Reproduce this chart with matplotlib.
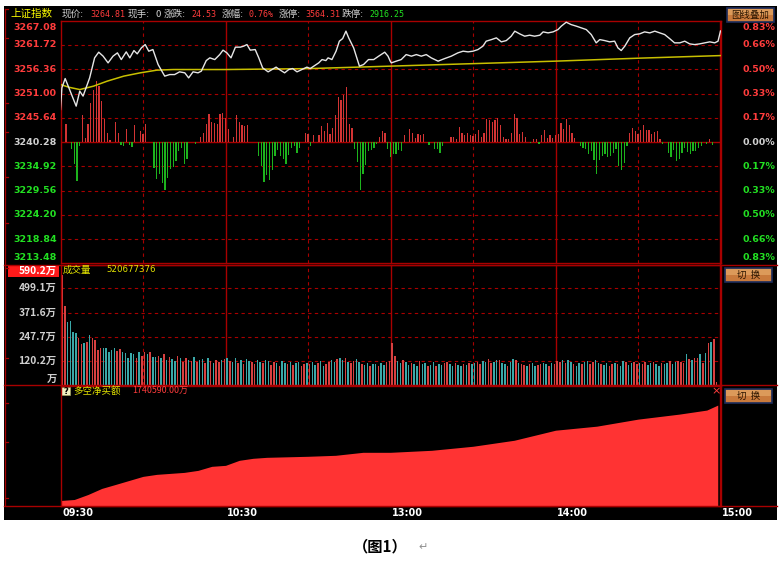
import matplotlib
matplotlib.use("Agg")
import matplotlib.pyplot as plt
from matplotlib.patches import Rectangle, FancyBboxPatch
from matplotlib.transforms import offset_copy
import numpy as np

# ---------------- data ----------------
PRE_CLOSE = 3240.28
price_ticks = [3267.08, 3261.72, 3256.36, 3251.00, 3245.64, 3240.28,
               3234.92, 3229.56, 3224.20, 3218.84, 3213.48]
pct_labels = ['0.83%', '0.66%', '0.50%', '0.33%', '0.17%', '0.00%',
              '0.17%', '0.33%', '0.50%', '0.66%', '0.83%']
time_labels = ['09:30', '10:30', '13:00', '14:00', '15:00']
time_pos = [0, 60, 120, 180, 240]
grid_dashed = [30, 90, 150, 210]
grid_solid = [60, 120, 180]

price_t = [0, 0.5, 1.7, 3.3, 5.7, 7, 8.2, 10.6, 12.4, 13.9, 15.5, 17.3, 19.1, 20.7, 22.1, 23.9, 25.2,
           26.7, 27.9, 29.4, 30.8, 32.1, 33.6, 35.5, 37.9, 39.7, 41.5, 43.3, 45.2, 46.6, 48.2, 50,
           51.2, 53, 54.3, 56.1, 57.9, 59.1, 60.5, 62, 63.6, 65.4, 66.6, 67.8, 69, 70.8, 72.1, 73.5,
           75.5, 76.9, 78.4, 79.6, 81.5, 83, 84.4, 86, 87.8, 89.6, 90.8, 92.1, 93.9, 95.1, 96.5,
           97.3, 98.7, 100.2, 101.4, 102.6, 103.8, 104.8, 106.6, 108.7, 110.2, 112, 113.9, 115.7,
           117.9, 119.1, 119.9, 120.3, 122.1, 123.9, 125.7, 127.6, 129.4, 131.2, 133, 134.8, 137.3,
           139.7, 142.1, 144.5, 146.4, 148.2, 150, 151.8, 153.6, 154.8, 156.7, 158.5, 160.3, 162.1,
           163.9, 165.2, 167, 168.8, 170.6, 172.4, 174.3, 175.5, 177.3, 179.1, 180.9, 182.1, 183.9,
           185.7, 187.6, 189.4, 191.2, 193, 194.8, 196.1, 197.9, 199.7, 201.5, 202.7, 203.9, 205.2,
           207, 208.8, 210.6, 212.4, 214.3, 216.1, 217.9, 219.7, 221.5, 223.3, 225.2, 227, 228.8,
           230.6, 232.4, 234.3, 236.1, 237.9, 239.1, 240]
price_v = [3247.47, 3252.26, 3254.31, 3251.88, 3248.22, 3251.53, 3250.43, 3254.46, 3258.88, 3260.13,
           3259.25, 3257.77, 3259.25, 3259.98, 3258.50, 3260.20, 3258.88, 3260.49, 3259.76, 3261.08,
           3261.81, 3260.35, 3260.71, 3257.40, 3254.84, 3255.19, 3255.19, 3255.79, 3255.57, 3254.46,
           3255.79, 3255.57, 3255.94, 3258.28, 3258.88, 3258.50, 3259.60, 3260.58, 3259.98, 3258.88,
           3261.24, 3261.24, 3261.46, 3261.81, 3260.58, 3260.71, 3258.88, 3256.67, 3255.79, 3256.30,
           3256.83, 3256.30, 3255.57, 3256.30, 3256.52, 3255.79, 3256.30, 3256.83, 3256.52, 3257.05,
           3257.77, 3258.50, 3258.28, 3258.88, 3258.50, 3260.35, 3262.56, 3263.13, 3264.77, 3263.29,
           3261.08, 3257.05, 3257.40, 3258.50, 3258.50, 3259.25, 3260.13, 3259.25, 3258.15, 3257.77,
           3258.15, 3258.50, 3259.60, 3259.25, 3259.60, 3259.25, 3259.60, 3258.88, 3258.15, 3258.72,
           3259.25, 3259.98, 3260.35, 3260.20, 3260.35, 3260.71, 3261.46, 3262.56, 3262.91, 3263.29,
           3262.41, 3262.69, 3263.66, 3264.77, 3264.17, 3263.66, 3263.88, 3263.66, 3263.88, 3264.61,
           3264.39, 3264.61, 3265.12, 3265.87, 3266.75, 3266.22, 3265.87, 3265.49, 3265.12, 3264.02,
           3262.19, 3262.91, 3262.69, 3262.41, 3262.56, 3261.08, 3260.49, 3261.46, 3263.29, 3264.02,
           3264.17, 3264.61, 3264.39, 3264.77, 3264.39, 3264.02, 3263.13, 3262.19, 3262.19, 3262.56,
           3261.96, 3261.81, 3261.96, 3262.19, 3262.41, 3262.19, 3262.56, 3264.81]

avg_t = [0, 3, 7, 12, 17, 23, 29, 35, 41, 60, 90, 120, 150, 180, 210, 240]
avg_v = [3252.99, 3252.40, 3251.88, 3252.63, 3253.74, 3254.84, 3255.57, 3256.16, 3256.30,
         3256.30, 3256.50, 3257.05, 3257.60, 3258.15, 3258.80, 3259.38]

bar_t = [2, 8, 9, 10, 11, 12, 13, 14, 15, 16, 17, 18, 20, 21, 24, 27, 29, 30, 31,
         4, 5, 6, 7, 22, 23, 25, 26,
         34, 35, 36, 37, 38, 39, 40, 41, 42, 43, 44, 45, 46, 49,
         51, 52, 53, 54, 55, 56, 57, 58, 59, 60, 61, 63, 64, 65, 66, 67, 68,
         72, 73, 74, 75, 76, 77, 78, 79, 80, 81, 82, 83, 84, 85, 86, 87, 91,
         89, 90, 92, 94, 95, 96, 97, 98, 99, 100, 101, 102, 103, 104, 105, 106,
         107, 108, 109, 110, 111, 112, 113, 114, 115, 116, 117, 118,
         119, 120, 121, 122, 123, 124, 125, 127, 128, 129, 130, 131, 132,
         134, 136, 137, 138, 139,
         142, 143, 144, 145, 146, 147, 148, 149, 150, 151, 152, 153, 154, 155, 156, 157, 158,
         159, 160, 161, 162, 163, 164, 165, 166, 167, 168, 169, 171, 172, 173, 174, 175, 176,
         177, 178, 179, 180, 181, 182, 183, 184, 185, 186, 187,
         189, 190, 191, 192, 193, 194, 195, 196, 197, 198, 199, 200, 201, 202, 203, 204, 205, 206,
         207, 208, 209, 210, 211, 212, 213, 214, 215, 216, 217, 218,
         219, 221, 222, 223, 224, 225, 226, 227, 228, 229, 230, 231, 232, 233, 235, 237, 236]
bar_v = [4.0, 5.9, 0.9, 3.9, 8.7, 11.6, 13.4, 12.3, 9.0, 5.0, 1.9, 0.4, 4.4, 1.9, 2.9, 3.7, 2.4, 1.8, 4.0,
         -1.5, -4.9, -8.6, -0.9, -0.7, -0.9, -0.7, -1.1,
         -5.7, -8.2, -7.0, -9.0, -10.6, -7.9, -6.0, -5.5, -4.2, -2.0, -1.3, -4.9, -3.8, -0.5,
         1.2, 2.0, 4.0, 6.2, 4.5, 4.2, 4.0, 6.1, 6.4, 5.3, 3.0, 1.2, 5.9, 4.5, 3.7, 3.5, 3.7,
         -3.1, -5.3, -8.8, -7.3, -8.4, -6.1, -3.1, -1.8, -3.1, -3.8, -4.9, -2.9, -1.3, -0.9, -2.4, -1.4, -0.9,
         1.9, 1.8, 1.5, 1.5, 3.5, 2.4, 4.2, 1.7, 3.1, 5.9, 10.0, 9.3, 10.5, 12.2, 3.9, 3.1,
         -1.6, -4.3, -10.6, -7.1, -5.1, -2.0, -1.8, -1.3, -0.5, 1.1, 2.4, 2.0,
         -1.5, -3.3, -2.7, -2.6, -1.8, -2.0, 1.5, 2.9, 2.0, 0.8, 1.8, 1.5, 1.7,
         -0.7, -1.6, -1.5, -2.4, -0.9,
         1.2, 1.2, 0.6, 3.4, 2.0, 1.5, 2.0, 1.5, 1.3, 1.8, 2.6, 1.2, 2.1, 5.0, 4.8, 4.5, 4.8,
         5.3, 3.7, 1.2, 0.7, 0.7, 2.0, 6.1, 5.3, 1.7, 2.2, 1.2, -0.3, 0.6, 0.6, -0.5, 1.5, 2.6,
         0.9, 1.5, 0.8, 1.5, 1.8, 4.2, 2.9, 5.2, 3.7, 2.0, 0.9,
         -0.9, -1.3, -1.6, -2.7, -2.0, -4.0, -7.1, -4.0, -3.1, -2.7, -3.3, -3.1, -2.4, -1.6, -5.3, -6.2, -4.6, -0.9,
         2.0, 3.1, 2.4, 1.8, 2.6, 3.7, 2.6, 2.6, 1.8, 2.3, 2.4, 0.7,
         -0.5, -2.4, -3.3, -1.8, -4.2, -3.8, -2.5, -1.3, -2.2, -2.7, -2.0, -2.0, -1.3, -0.9, -0.5, -0.7, 0.6]

vol = [568, 407, 326, 331, 270, 265, 239, 208, 218, 221, 256, 242, 230, 178, 190, 190, 187, 170,
       178, 190, 173, 182, 168, 165, 140, 165, 156, 140, 167, 147, 168, 158, 167, 142, 142,
       150, 138, 160, 128, 145, 133, 122, 150, 140, 118, 135, 128, 120, 142, 115, 125, 130, 112,
       138, 120, 110, 128, 118, 125, 130,
       135, 120, 118, 140, 112, 125, 108, 130, 122, 115, 105, 128, 118, 110, 125, 120, 102, 115,
       110, 98, 120, 112, 105, 118, 100, 110, 115, 98, 108, 112,
       105, 118, 100, 112, 120, 96, 108, 115, 125, 118, 130, 135, 128, 140, 118, 110, 122, 130,
       115, 105, 100, 112, 98, 108, 104, 96, 110, 102, 115, 120,
       215, 150, 120, 110, 125, 118, 100, 112, 108, 95, 120, 105, 110, 98, 102, 115, 96, 108, 100,
       112, 118, 105, 98, 110, 102, 96, 108, 100, 112, 104,
       110, 118, 105, 122, 115, 130, 112, 118, 125, 128, 110, 105, 98, 115, 130, 125, 112, 108,
       102, 98, 105, 110, 96, 102, 108, 112, 104, 98, 110, 105,
       120, 115, 128, 110, 125, 118, 105, 98, 112, 108, 115, 120, 104, 118, 128, 112, 105, 100,
       110, 98, 104, 112, 108, 96, 120, 115, 102, 110, 118, 105,
       112, 108, 115, 102, 110, 118, 105, 98, 110, 104, 112, 120, 108, 115, 122, 118, 110,
       156, 131, 128, 140, 136, 156, 110, 165, 213, 221, 235, 14]
vol_dir = ("uudddduududuuuuddddduudddddudu"
           "ududdudududduduudududdududuudu"
           "duddududduuddudduududdududduud"
           "uddudduuddudduduuddudduddudduu"
           "uuddudduddudduddudduudduddudud"
           "duudduudduddudduduududduuddudu"
           "uududduddudduuddudduududdudduu"
           "duuddudduddudduuudud"
           "uudududuudduu")
vol_ticks = [499.1, 371.6, 247.7, 120.2]
vol_top = 590.2
vol_total = "520677376"

nb_t = [0, 5, 10, 15, 20, 25, 30, 35, 40, 45, 50, 55, 60, 65, 70, 75, 90, 100, 110, 120,
        135, 150, 165, 180, 195, 210, 225, 235, 239]
nb_v = [87000, 104000, 191000, 296000, 365000, 435000, 505000, 540000, 557000, 574000, 609000,
        679000, 696000, 783000, 818000, 835000, 853000, 870000, 922000, 922000, 957000, 1027000,
        1131000, 1305000, 1375000, 1497000, 1584000, 1654000, 1740590]
nb_label = "1740590.00万"

header = [("现价:", "lab"), ("3264.81", "up"), ("现手:", "lab"), ("0", "lab"),
          ("涨跌:", "lab"), ("24.53", "up"), ("涨幅:", "lab"), ("0.76%", "up"),
          ("涨停:", "lab"), ("3564.31", "up"), ("跌停:", "lab"), ("2916.25", "dn")]

# ---------------- style ----------------
W, H = 779, 569
RED_GRID = '#a80000'
UP_TXT = '#ff3c3c'
DN_TXT = '#22e022'
LAB_TXT = '#d0d0d0'
CJK = ['Noto Sans CJK SC', 'DejaVu Sans']

fig = plt.figure(figsize=(W / 100, H / 100), dpi=100)
fig.patch.set_facecolor('white')

bg = fig.add_axes([0, 0, 1, 1])
bg.set_xlim(0, W)
bg.set_ylim(H, 0)
bg.axis('off')
bg.add_patch(Rectangle((4, 6), 773, 514, facecolor='black', edgecolor='none', zorder=0))

L, R = 60.5, 720.5
P_TOP, P_BOT = 20.7, 263.5
V_TOP, V_BOT = 264.5, 384.5
N_TOP, N_BOT = 385.5, 505.5


def panel(top, bot):
    ax = fig.add_axes([L / W, 1 - bot / H, (R - L) / W, (bot - top) / H])
    ax.set_facecolor('none')
    ax.set_xticks([])
    ax.set_yticks([])
    for s in ax.spines.values():
        s.set_color(RED_GRID)
        s.set_linewidth(1.0)
    ax.set_xlim(0, 240)
    return ax


# ---- price panel ----
ax1 = panel(P_TOP, P_BOT)
ax1.set_ylim(price_ticks[-1], price_ticks[0])
for v in price_ticks[1:-1]:
    if v == PRE_CLOSE:
        ax1.axhline(v, color=RED_GRID, lw=1.0, zorder=1)
    else:
        ax1.axhline(v, color=RED_GRID, lw=0.8, ls=(0, (3, 3)), zorder=1)
for t in grid_dashed:
    ax1.axvline(t, color=RED_GRID, lw=0.8, ls=(0, (3, 3)), zorder=1)
for t in grid_solid:
    ax1.axvline(t, color=RED_GRID, lw=1.0, zorder=1)
bt = np.array(bar_t)
bv = np.array(bar_v)
ax1.bar(bt, bv, bottom=PRE_CLOSE, width=0.45,
        color=np.where(bv >= 0, '#d23434', '#1db31d'), zorder=2)
ax1.plot(avg_t, avg_v, color='#c8c000', lw=1.1, zorder=3)
ax1.plot(price_t, price_v, color='#e6e6e6', lw=1.0, zorder=4)

ytr = ax1.get_yaxis_transform()
n = len(price_ticks)
for i, (v, pl) in enumerate(zip(price_ticks, pct_labels)):
    col = UP_TXT if v > PRE_CLOSE else (LAB_TXT if v == PRE_CLOSE else DN_TXT)
    if i == 0:
        tr, va = offset_copy(ytr, fig=fig, y=-2, units='dots'), 'top'
    elif i == n - 1:
        tr, va = offset_copy(ytr, fig=fig, y=1.5, units='dots'), 'bottom'
    else:
        tr, va = ytr, 'center'
    ax1.text(-0.006, v, f"{v:.2f}", transform=tr, ha='right', va=va, color=col,
             fontsize=6.8, fontweight='bold', family='DejaVu Sans', clip_on=False)
    ax1.text(1 + 54.5 / 660, v, pl, transform=tr, ha='right', va=va, color=col,
             fontsize=6.8, fontweight='bold', family='DejaVu Sans', clip_on=False)

# ---- volume panel ----
ax2 = panel(V_TOP, V_BOT)
ax2.set_ylim(0, 623)
for v in vol_ticks:
    ax2.axhline(v, color=RED_GRID, lw=0.8, ls=(0, (3, 3)), zorder=1)
for t in grid_dashed:
    ax2.axvline(t, color=RED_GRID, lw=0.8, ls=(0, (3, 3)), zorder=1)
for t in grid_solid:
    ax2.axvline(t, color=RED_GRID, lw=1.0, zorder=1)
vx = np.arange(len(vol)) + 0.6
vcol = ['#d84040' if d == 'u' else '#3aa8a8' for d in vol_dir[:len(vol)]]
vcol += ['#d84040'] * (len(vol) - len(vcol))
ax2.bar(vx, vol, width=0.55, color=vcol, zorder=2)
ytr2 = ax2.get_yaxis_transform()
for v in vol_ticks:
    ax2.text(-0.006, v, f"{v}万", transform=ytr2, ha='right', va='center', color=LAB_TXT,
             fontsize=7.4, fontweight='bold', family=CJK, clip_on=False)
ax2.text(-0.006, 0, "万", transform=offset_copy(ytr2, fig=fig, y=1, units='dots'),
         ha='right', va='bottom', color=LAB_TXT,
         fontsize=7.4, fontweight='bold', family=CJK, clip_on=False)
bg.add_patch(Rectangle((8, 265.5), 51, 11.5, facecolor='#ff1a1a', edgecolor='none', zorder=1))
ax2.text(-0.006, vol_top, f"{vol_top}万", transform=ytr2, ha='right', va='center', color='white',
         fontsize=7.4, fontweight='bold', family=CJK, clip_on=False, zorder=5)
ax2.text(0.003, 0.955, "成交量", transform=ax2.transAxes, ha='left', va='center',
         color='#e6e600', fontsize=6.8, family=CJK)
ax2.text(0.069, 0.955, vol_total, transform=ax2.transAxes, ha='left', va='center',
         color='#e6e600', fontsize=6.2, family='DejaVu Sans')

# ---- net buy panel ----
ax3 = panel(N_TOP, N_BOT)
ax3.set_ylim(0, 2080000)
ax3.fill_between(nb_t, nb_v, 0, color='#ff3333', lw=0, zorder=2)
ax3.text(0.020, 0.955, "多空净买额", transform=ax3.transAxes, ha='left', va='center',
         color='#e6e600', fontsize=6.8, family=CJK)
ax3.text(0.108, 0.955, nb_label, transform=ax3.transAxes, ha='left', va='center',
         color='#ff3c3c', fontsize=6.4, family=CJK)
ax3.text(0.993, 0.955, "×", transform=ax3.transAxes, ha='center', va='center',
         color='#ff3c3c', fontsize=8, family='DejaVu Sans')
bg.add_patch(Rectangle((61, 387), 9, 8, facecolor='#f0f0c0', edgecolor='#a0a060', lw=0.5, zorder=3))
bg.text(65.5, 391, "?", ha='center', va='center', fontsize=6, fontweight='bold', color='black', zorder=4)

# ---- time axis ----
for lab, t in zip(time_labels, time_pos):
    ax3.text(t + 0.6, -0.065, lab, transform=ax3.get_xaxis_transform(), ha='left', va='center',
             color='white', fontsize=7.0, fontweight='bold', family='DejaVu Sans', clip_on=False)

# ---- frame lines ----
for y in (264.5, 384.8, 505.5):
    bg.plot([4, 777], [y, y], color=RED_GRID, lw=1.0, zorder=2)
bg.plot([R, R], [P_TOP, N_BOT], color=RED_GRID, lw=1.0, zorder=2)
bg.plot([5.5, 5.5], [9, 505], color=RED_GRID, lw=0.9, zorder=2)
for y in (9, 38, 103, 132, 177, 223, 268, 358, 403, 442, 498):
    bg.plot([5.5, 8.5], [y, y], color=RED_GRID, lw=0.9, zorder=2)

# ---- header ----
bg.text(10, 13.5, "上证指数", ha='left', va='center', color='#ffff00', fontsize=7.6, family=CJK)
hx = [62, 90, 128, 156, 164, 191, 222, 249, 279, 305, 342, 369]
cmap = {"lab": LAB_TXT, "up": UP_TXT, "dn": DN_TXT}
for x, (txt, kind) in zip(hx, header):
    if kind == "lab":
        bg.text(x, 14, txt, ha='left', va='center', color=cmap[kind], fontsize=6.9, family=CJK)
    else:
        bg.text(x, 14.5, txt, ha='left', va='center', color=cmap[kind], fontsize=6.0,
                family='DejaVu Sans Mono')


# ---- buttons ----
def button(x0, y0, w, h, label):
    bg.add_patch(FancyBboxPatch((x0, y0), w, h, boxstyle="square,pad=0",
                                facecolor='#c97a3c', edgecolor='#1c2c5c', lw=1.2, zorder=3))
    bg.add_patch(Rectangle((x0 + 1, y0 + 1), w - 2, h / 2 - 1, facecolor='#dc9a5a',
                           edgecolor='none', zorder=3))
    bg.text(x0 + w / 2, y0 + h / 2 + 0.5, label, ha='center', va='center', color='#2a1400',
            fontsize=6.8, family=CJK, zorder=4)


button(727, 8, 47, 13.5, "图线叠加")
button(725.5, 267.5, 47, 14, "切  换")
button(725.5, 388.5, 47, 14, "切  换")

# ---- caption ----
bg.text(380, 546, "（图1）", ha='center', va='center', color='black', fontsize=11,
        fontweight='bold', family=CJK)
bg.text(423, 547, "↵", ha='center', va='center', color='#909090', fontsize=8, family=CJK)

fig.savefig("out.png", dpi=100, facecolor='white')
